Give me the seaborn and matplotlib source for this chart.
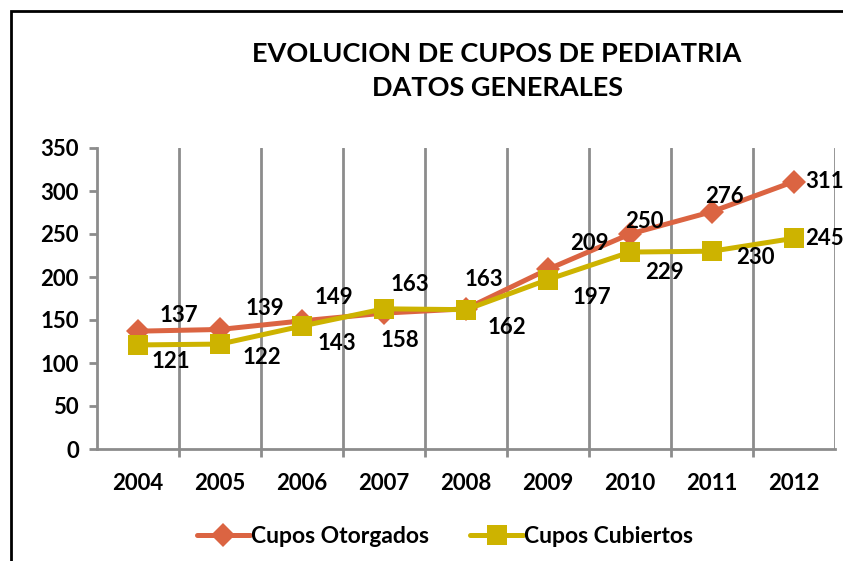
"""
Evolucion de cupos de pediatria - datos generales.
Line chart of granted vs. covered places per year.
"""

import matplotlib
matplotlib.use("Agg")
import matplotlib.pyplot as plt
from matplotlib.lines import Line2D
from matplotlib.patches import Rectangle
import pandas as pd
import seaborn as sns

years = [2004, 2005, 2006, 2007, 2008, 2009, 2010, 2011, 2012]
otorgados = [137, 139, 149, 158, 163, 209, 250, 276, 311]
cubiertos = [121, 122, 143, 163, 162, 197, 229, 230, 245]
series_names = ["Cupos Otorgados", "Cupos Cubiertos"]
title = "EVOLUCION DE CUPOS DE PEDIATRIA\nDATOS GENERALES"

# label offsets in pixels (dx, dy with y going down)
off_otorgados = [(41, -16), (45, -21), (32, -23), (16, 27), (18, -29),
                 (41, -26), (14, -12), (12, -15), (11, 0)]
off_cubiertos = [(33, 17), (42, 13), (35, 17), (26, -24), (41, 18),
                 (44, 18), (34, 20), (43, 6), (11, 0)]

ORANGE = "#DB6442"
YELLOW = "#CDB300"
GRID = "#8C8C8C"

sns.set_theme(style="white")
plt.rcParams["font.family"] = ["Lato", "DejaVu Sans"]
plt.rcParams["font.weight"] = "bold"
plt.rcParams["text.color"] = "black"

df = pd.DataFrame({"year": years, "otorgados": otorgados, "cubiertos": cubiertos})

fig = plt.figure(figsize=(8.43, 5.61), dpi=100)
ax = fig.add_axes([97 / 843, 1 - 449 / 561, 738 / 843, 301 / 561])

sns.lineplot(data=df, x="year", y="otorgados", ax=ax, color=ORANGE, lw=3.6,
             marker="D", markersize=12, markeredgewidth=0, zorder=4)
sns.lineplot(data=df, x="year", y="cubiertos", ax=ax, color=YELLOW, lw=3.6,
             marker="s", markersize=15, markeredgewidth=0, zorder=5)

px = 0.72  # pixels -> points at 100 dpi
for vals, offs in ((otorgados, off_otorgados), (cubiertos, off_cubiertos)):
    for i, (yr, v) in enumerate(zip(years, vals)):
        dx, dy = offs[i]
        ha = "left" if i == len(years) - 1 else "center"
        ax.annotate(str(v), (yr, v), xytext=(dx * px, -dy * px),
                    textcoords="offset points", ha=ha, va="center",
                    fontsize=16, fontweight="bold", color="black",
                    annotation_clip=False, zorder=6)

ax.set_xlim(2003.5, 2012.5)
ax.set_ylim(0, 350)
ax.set_yticks(range(0, 351, 50))
ax.set_xticks(years)
ax.set_xticks([y + 0.5 for y in years[:-1]], minor=True)
ax.grid(False)
for x in [y + 0.5 for y in years]:
    ax.axvline(x, color=GRID, lw=2, zorder=1)
ax.set_xlabel("")
ax.set_ylabel("")

ax.tick_params(axis="y", which="major", length=6, width=2, color=GRID,
               direction="out", left=True, labelsize=16, pad=7,
               labelcolor="black")
ax.tick_params(axis="x", which="major", length=0, labelsize=16, pad=17,
               labelcolor="black")
ax.tick_params(axis="x", which="minor", length=6, width=2, color=GRID,
               direction="out", bottom=True)
for lab in ax.get_xticklabels() + ax.get_yticklabels():
    lab.set_fontweight("bold")

for side in ("top", "right"):
    ax.spines[side].set_visible(False)
for side in ("left", "bottom"):
    ax.spines[side].set_color(GRID)
    ax.spines[side].set_linewidth(2)

fig.text(497 / 843, 1 - 71 / 561, title, ha="center", va="center",
         fontsize=19.5, fontweight="bold", linespacing=1.55, color="black")

handles = [
    Line2D([], [], color=ORANGE, lw=3.6, marker="D", markersize=12, markeredgewidth=0),
    Line2D([], [], color=YELLOW, lw=3.6, marker="s", markersize=15, markeredgewidth=0),
]
leg = fig.legend(handles, series_names, loc="center", bbox_to_anchor=(0.528, 0.043),
                 ncol=2, frameon=False, fontsize=16.5, handlelength=2.3,
                 handletextpad=0.05, columnspacing=1.8)
for t in leg.get_texts():
    t.set_fontweight("bold")
    t.set_color("black")

# chart frame, cut off at right and bottom like the screenshot
fig.patches.append(Rectangle((11 / 843, -0.1), 1.2, 1 - 11 / 561 + 0.1,
                             transform=fig.transFigure, fill=False,
                             edgecolor="black", lw=2))

fig.savefig("out.png", dpi=100)
